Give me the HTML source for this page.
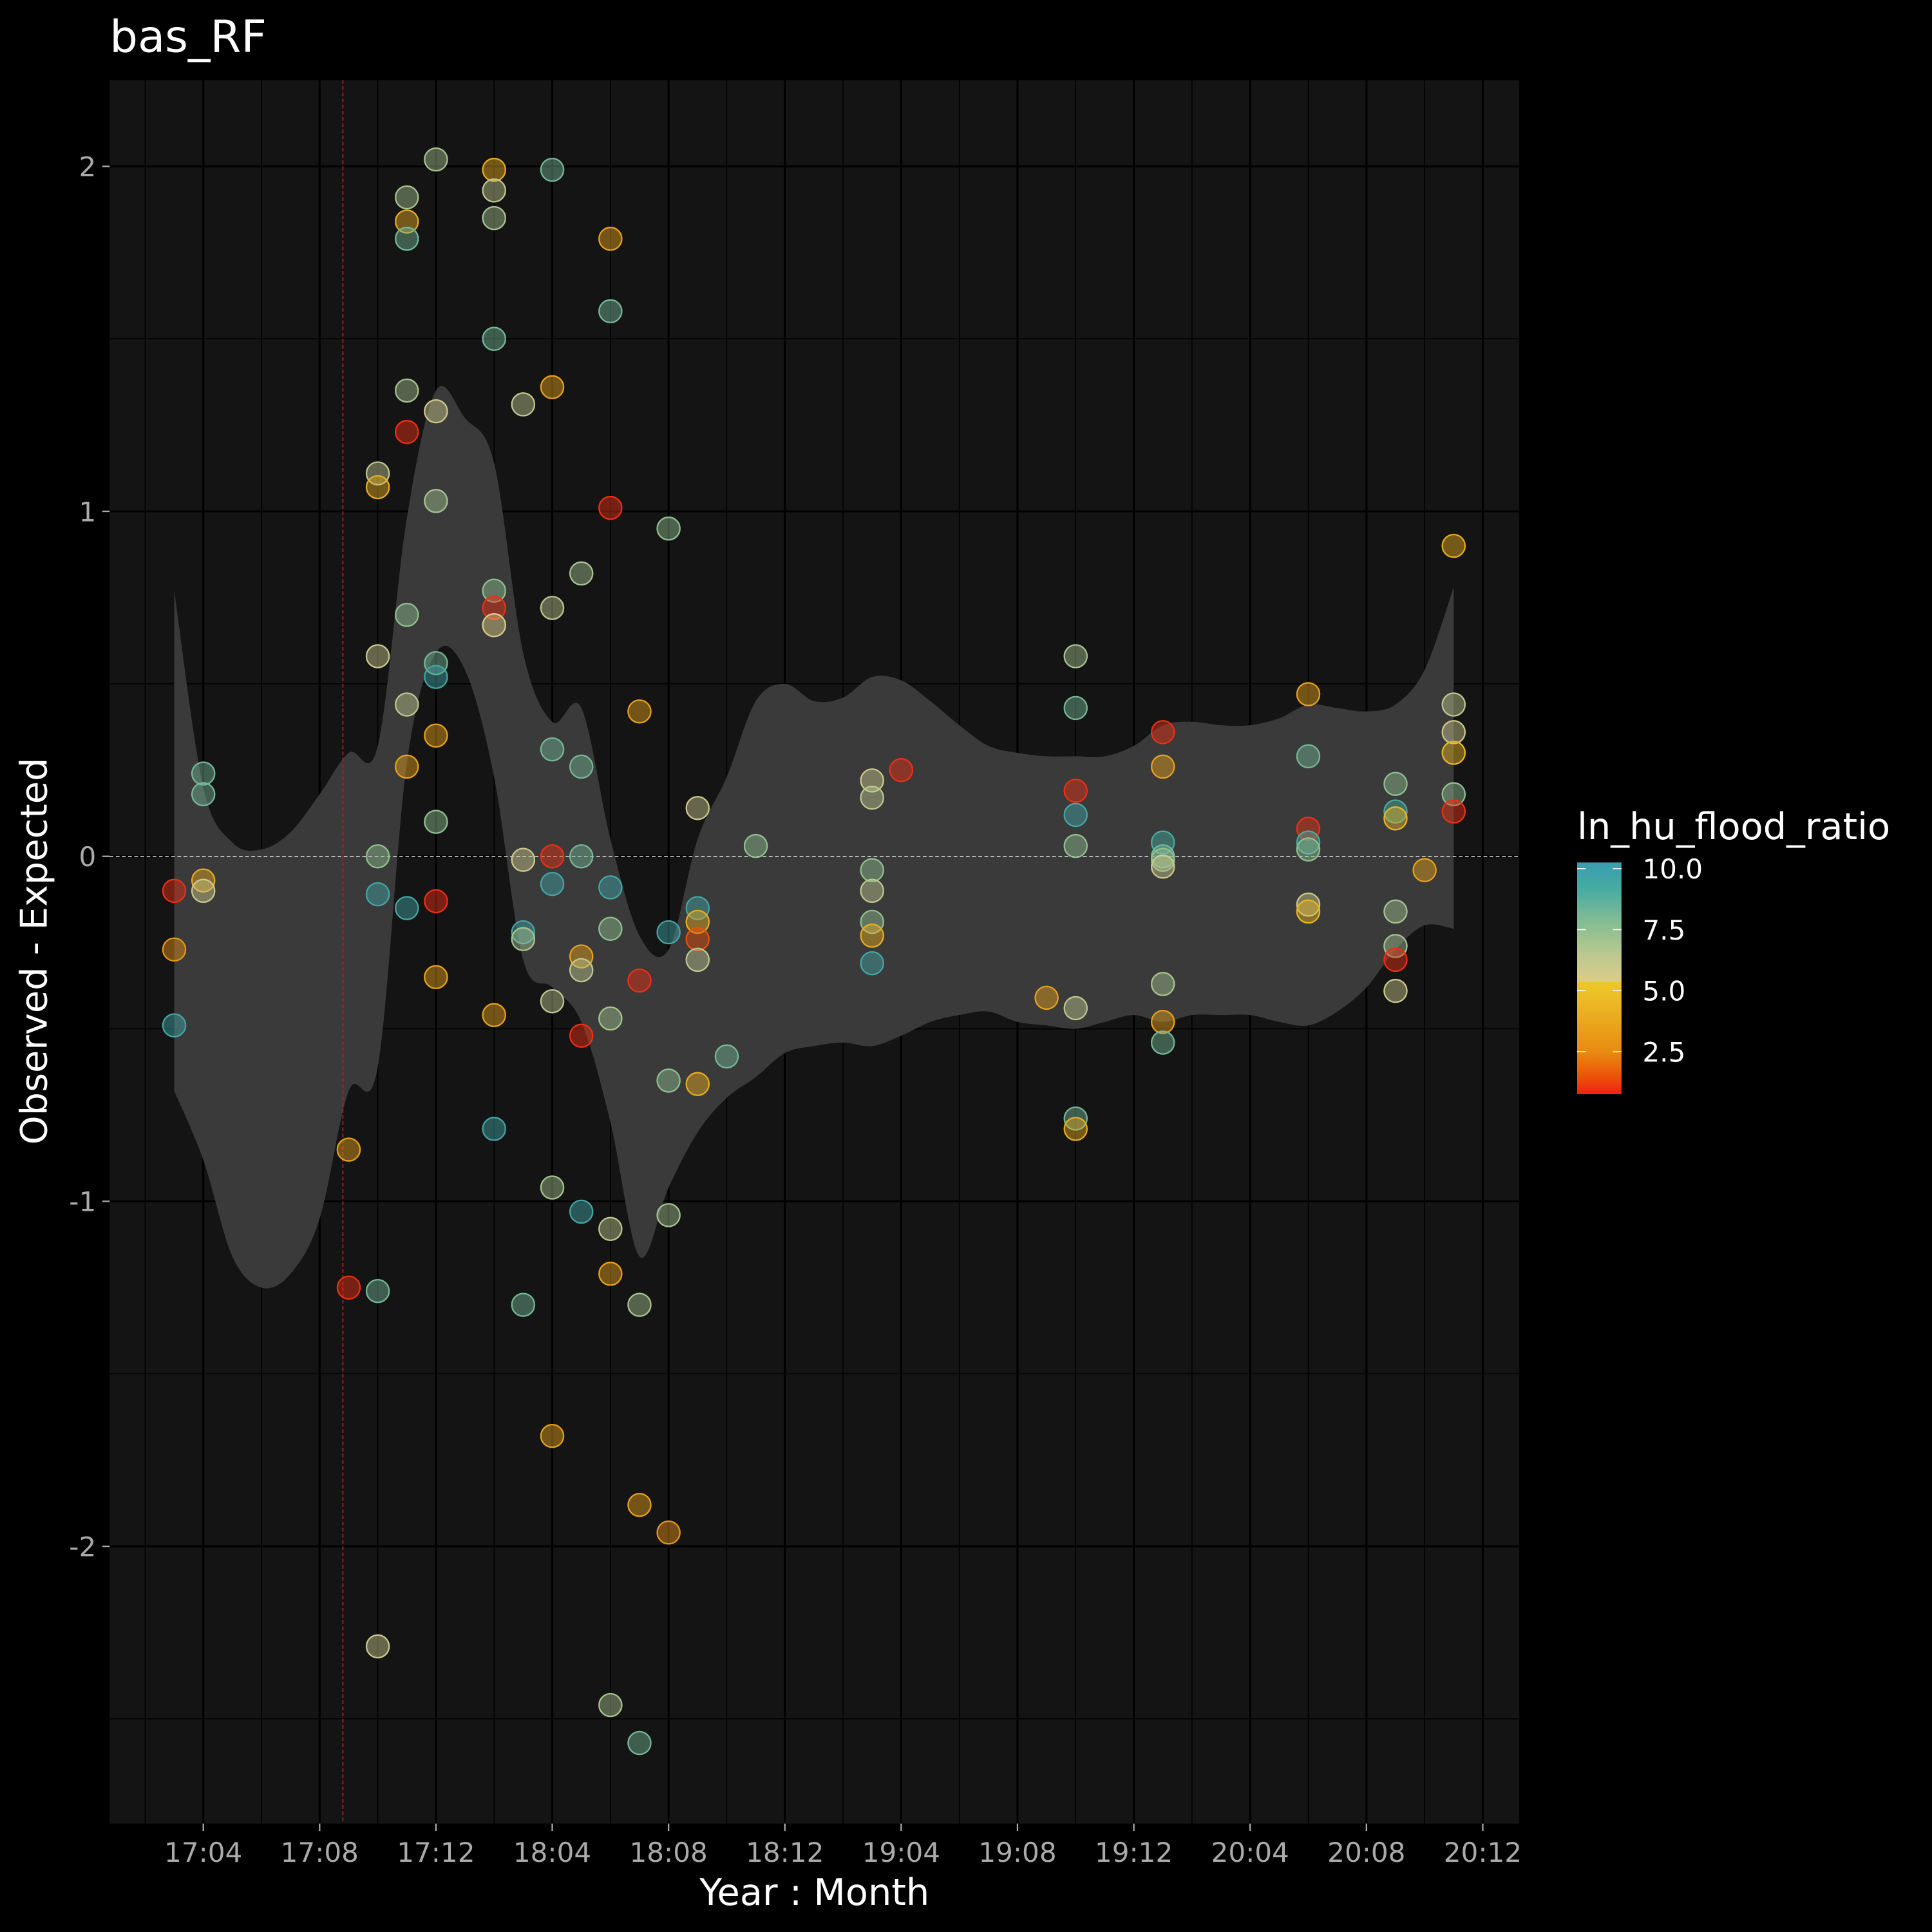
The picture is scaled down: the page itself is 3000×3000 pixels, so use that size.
<!DOCTYPE html>
<html><head><meta charset="utf-8"><style>html,body{margin:0;padding:0;background:#000;}svg{display:block;}</style></head>
<body>
<svg id="chart" xmlns="http://www.w3.org/2000/svg" width="3000" height="3000" viewBox="0 0 1568 1568" font-family="'DejaVu Sans','Liberation Sans',sans-serif">
<rect width="1568" height="1568" fill="#000"/>
<text x="89" y="42" fill="#fff" font-size="36">bas_RF</text>
<rect x="89" y="65" width="1144" height="1415" fill="#141414"/>
<g id="grid"></g>
<g id="ribbon"></g>
<g id="refs"></g>
<g id="pts"></g>
<g id="axes"></g>
<text x="661" y="1546" fill="#fff" font-size="30" text-anchor="middle">Year : Month</text>
<text transform="translate(38,772) rotate(-90)" fill="#fff" font-size="30" text-anchor="middle">Observed - Expected</text>
<defs><linearGradient id="cb" x1="0" y1="1" x2="0" y2="0">
<stop offset="0" stop-color="#f02018"/><stop offset="0.07" stop-color="#ec5008"/><stop offset="0.18" stop-color="#e88a10"/><stop offset="0.44" stop-color="#ecc228"/><stop offset="0.485" stop-color="#ecc828"/><stop offset="0.486" stop-color="#dccc88"/><stop offset="0.6" stop-color="#bcc890"/><stop offset="0.71" stop-color="#90c090"/><stop offset="0.78" stop-color="#75b898"/><stop offset="0.88" stop-color="#48aca0"/><stop offset="1" stop-color="#3a9cb0"/>
</linearGradient></defs>
<g>
<text x="1280" y="681" fill="#fff" font-size="30">ln_hu_flood_ratio</text>
<rect x="1280" y="700" width="36" height="188" fill="url(#cb)"/>
<g id="legticks"></g>
</g>
</svg>
<script>
const months = [2,2,2,3,3,3,3,8,8,9,9,9,9,9,9,9,10,10,10,10,10,10,10,10,10,11,11,11,11,11,11,11,11,11,13,13,13,13,13,13,13,13,13,14,14,14,14,14,15,15,15,15,15,15,15,15,15,16,16,16,16,16,16,16,17,17,17,17,17,17,17,17,17,18,18,18,18,18,19,19,19,19,19,20,20,20,20,20,20,21,22,26,26,26,26,26,26,26,27,32,33,33,33,33,33,33,33,33,36,36,36,36,36,36,36,36,36,41,41,41,41,41,41,41,44,44,44,44,44,44,44,45,46,46,46,46,46,46];
const residuals = [-0.1,-0.27,-0.49,0.24,0.18,-0.07,-0.1,-0.85,-1.25,1.11,1.07,0.58,0,-0.11,-1.26,-2.29,1.91,1.84,1.79,1.35,1.23,0.70,0.44,0.26,-0.15,2.02,1.29,1.03,0.56,0.52,0.35,0.10,-0.13,-0.35,1.99,1.93,1.85,1.50,0.77,0.72,0.67,-0.46,-0.79,1.31,-0.01,-0.22,-0.24,-1.30,1.99,1.36,0.72,0.31,0,-0.08,-0.42,-0.96,-1.68,0.82,0.26,0,-0.29,-0.33,-0.52,-1.03,1.79,1.58,1.01,-0.09,-0.21,-0.47,-1.08,-1.21,-2.46,0.42,-0.36,-1.30,-1.88,-2.57,0.95,-0.22,-0.65,-1.04,-1.96,0.14,-0.15,-0.19,-0.24,-0.30,-0.66,-0.58,0.03,0.22,0.17,-0.04,-0.10,-0.19,-0.23,-0.31,0.25,-0.41,0.58,0.43,0.19,0.12,0.03,-0.44,-0.76,-0.79,0.36,0.26,0.04,0,-0.01,-0.03,-0.37,-0.48,-0.54,0.47,0.29,0.08,0.04,0.02,-0.14,-0.16,0.21,0.13,0.11,-0.16,-0.26,-0.30,-0.39,-0.04,0.90,0.44,0.36,0.30,0.18,0.13];
const ratios = [1,3,9.5,8,8,4,6,3.5,1,6.5,4,6,7.5,9.5,8,6,7,4,8,7,1,7.5,6.5,3.5,9.5,7,6,7,8,9.5,3.5,7.5,1,3.5,4,6.5,7,8,7.5,1,5.5,3.5,9.5,6.5,6,9.5,7,8,8,3.5,6.5,8,1,9.5,6.5,7,3.5,7,8,8,3.5,6.5,1,9.5,3.5,8,1,9.5,7.5,7,6.5,3.5,7,3.5,1,7,3.5,8,7.5,9.5,7.5,7,3,6,9.5,4,1.5,6.5,4,8,7.5,6,6.5,7.5,6.5,7.5,4,9.5,1,3.5,7,8,1,9.5,7.5,6.5,8,4,1,3.5,9,8,7.5,6,7,3.5,8,3.5,8,1,9,7.5,6,4.5,7.5,9,4.5,7,7,1,6,3.5,4,6.5,6,4.5,7.5,1];
const ribbonMonths = [2,3,4,5,6,7,8,9,10,11,12,13,14,15,16,17,18,19,20,21,22,23,24,25,26,27,28,29,30,31,32,33,34,35,36,37,38,39,40,41,42,43,44,45,46];
const ribbonUpper = [0.77,0.20,0.04,0.02,0.07,0.18,0.30,0.32,0.98,1.35,1.27,1.14,0.59,0.39,0.43,0.05,-0.23,-0.27,0.05,0.23,0.45,0.50,0.45,0.46,0.52,0.51,0.45,0.38,0.32,0.30,0.29,0.29,0.29,0.32,0.38,0.39,0.38,0.38,0.40,0.44,0.43,0.42,0.44,0.54,0.78];
const ribbonLower = [-0.68,-0.88,-1.16,-1.25,-1.21,-1.05,-0.68,-0.61,0.27,0.59,0.54,0.23,-0.30,-0.38,-0.48,-0.77,-1.16,-0.96,-0.80,-0.70,-0.64,-0.57,-0.55,-0.54,-0.55,-0.52,-0.48,-0.46,-0.45,-0.48,-0.49,-0.50,-0.48,-0.46,-0.48,-0.46,-0.46,-0.46,-0.48,-0.49,-0.45,-0.38,-0.27,-0.20,-0.21];
const xTickMonths = [3,7,11,15,19,23,27,31,35,39,43,47];
const xTickLabels = ["17:04","17:08","17:12","18:04","18:08","18:12","19:04","19:08","19:12","20:04","20:08","20:12"];
const yTicks = [2,1,0,-1,-2];
const yTickLabels = ["2","1","0","-1","-2"];
const legendValues = [10,7.5,5,2.5];
const legendLabels = ["10.0","7.5","5.0","2.5"];
const refMonth = 7.8;

const NS="http://www.w3.org/2000/svg";
const xs = m => 165 + (m-3)*23.6;
const ys = v => 695 - v*280;
const ls = v => 705 + (10-v)*19.8;
function mk(tag, attrs, parent){const e=document.createElementNS(NS,tag);for(const k in attrs)e.setAttribute(k,attrs[k]);parent.appendChild(e);return e;}
const cstops=[[0.8,[240,32,24]],[1.5,[236,80,8]],[2.5,[232,138,16]],[4,[232,172,32]],[5.45,[236,200,40]],[5.46,[220,204,136]],[6.5,[188,200,144]],[7.5,[144,192,144]],[8,[117,184,152]],[9,[72,172,160]],[10.35,[58,156,176]]];
function col(v){if(v<=cstops[0][0])return cstops[0][1];for(let i=1;i<cstops.length;i++){if(v<=cstops[i][0]){const a=cstops[i-1],b=cstops[i],t=(v-a[0])/(b[0]-a[0]);return a[1].map((c,j)=>Math.round(c+(b[1][j]-c)*t));}}return cstops[cstops.length-1][1];}

const grid=document.getElementById('grid');
for(let i=0;i<xTickMonths.length;i++){
  const x=xs(xTickMonths[i]);
  const g=mk('line',{x1:x,x2:x,y1:65,y2:1480,stroke:'#000','stroke-width':1.6},grid);
  
  
  const xm=xs(xTickMonths[i]-2);
  const g2=mk('line',{x1:xm,x2:xm,y1:65,y2:1480,stroke:'#000','stroke-width':0.8},grid);
  
  
}
for(let i=0;i<yTicks.length;i++){
  const y=ys(yTicks[i]);
  const g=mk('line',{x1:89,x2:1233,y1:y,y2:y,stroke:'#000','stroke-width':1.6},grid);
  
  
}
[1.5,0.5,-0.5,-1.5,-2.5].forEach(v=>{const y=ys(v);
  const g=mk('line',{x1:89,x2:1233,y1:y,y2:y,stroke:'#000','stroke-width':0.8},grid);
  
  });

function smooth(pts){let d='M'+pts[0][0]+','+pts[0][1];for(let i=0;i<pts.length-1;i++){const p0=pts[Math.max(0,i-1)],p1=pts[i],p2=pts[i+1],p3=pts[Math.min(pts.length-1,i+2)];
 const c1=[p1[0]+(p2[0]-p0[0])/6,p1[1]+(p2[1]-p0[1])/6],c2=[p2[0]-(p3[0]-p1[0])/6,p2[1]-(p3[1]-p1[1])/6];d+=' C'+c1.join(',')+' '+c2.join(',')+' '+p2.join(',');}return d;}
const up=ribbonMonths.map((m,i)=>[xs(m),ys(ribbonUpper[i])]);
const lo=ribbonMonths.map((m,i)=>[xs(m),ys(ribbonLower[i])]).reverse();
const rd=smooth(up)+' L'+lo[0].join(',')+' '+smooth(lo).replace(/^M[^ ]+/,'')+' Z';
const rib=mk('path',{d:rd,fill:'#3a3a3a'},document.getElementById('ribbon'));



const refs=document.getElementById('refs');
const zl=mk('line',{x1:89,x2:1233,y1:ys(0),y2:ys(0),stroke:'#ddd','stroke-width':0.8,'stroke-dasharray':'3,2'},refs);


const vl=mk('line',{x1:xs(refMonth),x2:xs(refMonth),y1:65,y2:1480,stroke:'#b22222','stroke-width':0.9,'stroke-dasharray':'3,2'},refs);



const pts=document.getElementById('pts');
for(let i=0;i<months.length;i++){
  const c=col(ratios[i]);const rgb='rgb('+c.join(',')+')';
  const p=mk('circle',{cx:xs(months[i]),cy:ys(residuals[i]),r:9.2,fill:rgb,'fill-opacity':0.45,stroke:rgb,'stroke-width':1.2},pts);
  
  
}

const axes=document.getElementById('axes');
for(let i=0;i<xTickMonths.length;i++){
  const x=xs(xTickMonths[i]);
  const t=mk('line',{x1:x,x2:x,y1:1480,y2:1486,stroke:'#aaa','stroke-width':1.2},axes);
  
  
  const l=mk('text',{x:x,y:1511,fill:'#aaa','font-size':22,'text-anchor':'middle'},axes);
  l.textContent=xTickLabels[i];
  
  
}
for(let i=0;i<yTicks.length;i++){
  const y=ys(yTicks[i]);
  const t=mk('line',{x1:83,x2:89,y1:y,y2:y,stroke:'#aaa','stroke-width':1.2},axes);
  
  
  const l=mk('text',{x:78,y:y+8,fill:'#aaa','font-size':22,'text-anchor':'end'},axes);
  l.textContent=yTickLabels[i];
  
  
}
const lt=document.getElementById('legticks');
for(let i=0;i<legendValues.length;i++){
  const y=ls(legendValues[i]);
  mk('line',{x1:1280,x2:1287,y1:y,y2:y,stroke:'#fff','stroke-width':0.8},lt);
  mk('line',{x1:1309,x2:1316,y1:y,y2:y,stroke:'#fff','stroke-width':0.8},lt);
  const l=mk('text',{x:1333,y:y+8,fill:'#fff','font-size':22},lt);
  l.textContent=legendLabels[i];
  
  
}
</script>
</body></html>
